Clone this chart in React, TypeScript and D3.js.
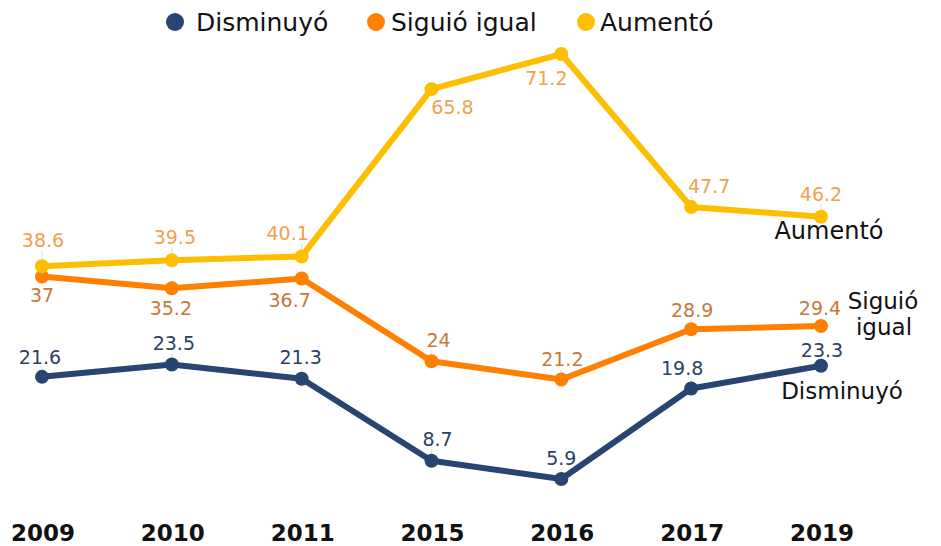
import React from 'react';
import * as d3 from 'd3';

const years = ['2009', '2010', '2011', '2015', '2016', '2017', '2019'];
const disminuyo = [21.6, 23.5, 21.3, 8.7, 5.9, 19.8, 23.3];
const siguio = [37, 35.2, 36.7, 24, 21.2, 28.9, 29.4];
const aumento = [38.6, 39.5, 40.1, 65.8, 71.2, 47.7, 46.2];
const seriesNames = ['Disminuyó', 'Siguió igual', 'Aumentó'];

// label offsets (style only)
const aumentoOffsets = [[1, -19], [3, -16], [-14, -16], [21, 25], [-15, 31], [18, -14], [0, -16]];
const siguioOffsets = [[0, 25], [-1, 27], [-12, 28], [7, -14], [1, -13], [1, -12], [-1, -11]];
const disminuyoOffsets = [[-2, -13], [2, -14], [-1, -15], [6, -15], [0, -14], [-9, -14], [1, -9]];

const W = 941;
const H = 546;
const FONT = 'DejaVu Sans, sans-serif';

export default function App() {
  const x = d3.scalePoint<string>().domain(years).range([42, 821]);
  const y = d3.scaleLinear().domain([0, 80]).range([517.4, 517.4 - 80 * 6.508]);

  const series = [
    { name: seriesNames[0], values: disminuyo, color: '#264570', labelColor: '#2A4165', offsets: disminuyoOffsets },
    { name: seriesNames[1], values: siguio, color: '#FF8000', labelColor: '#C8773A', offsets: siguioOffsets },
    { name: seriesNames[2], values: aumento, color: '#FDBE00', labelColor: '#F2A04E', offsets: aumentoOffsets },
  ];

  const line = d3
    .line<number>()
    .x((_, i) => x(years[i]) as number)
    .y((d) => y(d));

  const legendPos = [
    { cx: 175, tx: 196 },
    { cx: 376, tx: 391 },
    { cx: 586, tx: 600 },
  ];

  return (
    <div style={{ position: 'absolute', left: 0, top: 0 }}>
      <svg width={W} height={H} style={{ display: 'block', background: '#fff' }}>
        {/* leader lines */}
        {series.map((s) =>
          s.values.map((v, i) => {
            const [dx, dy] = s.offsets[i];
            if (dy >= 0) return null;
            const px = x(years[i]) as number;
            const py = y(v);
            return (
              <line
                key={s.name + 'l' + i}
                x1={px}
                x2={px}
                y1={py + dy + 3}
                y2={py - 4}
                stroke="#e3e3e3"
                strokeWidth={1.2}
              />
            );
          })
        )}
        {series.map((s) => (
          <g key={s.name}>
            <path d={line(s.values) || ''} fill="none" stroke={s.color} strokeWidth={6} strokeLinejoin="round" />
            {s.values.map((v, i) => (
              <circle key={i} cx={x(years[i]) as number} cy={y(v)} r={7} fill={s.color} />
            ))}
          </g>
        ))}
        {series.map((s) =>
          s.values.map((v, i) => {
            const [dx, dy] = s.offsets[i];
            return (
              <text
                key={s.name + 't' + i}
                x={(x(years[i]) as number) + dx}
                y={y(v) + dy}
                textAnchor="middle"
                fontFamily={FONT}
                fontSize={19}
                fill={s.labelColor}
              >
                {String(v)}
              </text>
            );
          })
        )}
        {/* end labels */}
        <text x={829} y={239} textAnchor="middle" fontFamily={FONT} fontSize={24} fill="#111">
          Aumentó
        </text>
        <text x={883} y={309} textAnchor="middle" fontFamily={FONT} fontSize={23} fill="#111">
          Siguió
        </text>
        <text x={884} y={335} textAnchor="middle" fontFamily={FONT} fontSize={23} fill="#111">
          igual
        </text>
        <text x={842} y={399} textAnchor="middle" fontFamily={FONT} fontSize={23} fill="#111">
          Disminuyó
        </text>
        {/* x axis labels */}
        {years.map((yr) => (
          <text
            key={yr}
            x={(x(yr) as number) + 1}
            y={541}
            textAnchor="middle"
            fontFamily={FONT}
            fontWeight="bold"
            fontSize={23}
            fill="#111"
          >
            {yr}
          </text>
        ))}
        {/* legend */}
        {series.map((s, i) => (
          <g key={'lg' + i}>
            <circle cx={legendPos[i].cx} cy={22} r={9} fill={s.color} />
            <text x={legendPos[i].tx} y={31} fontFamily={FONT} fontSize={25} fill="#111">
              {s.name}
            </text>
          </g>
        ))}
      </svg>
    </div>
  );
}
